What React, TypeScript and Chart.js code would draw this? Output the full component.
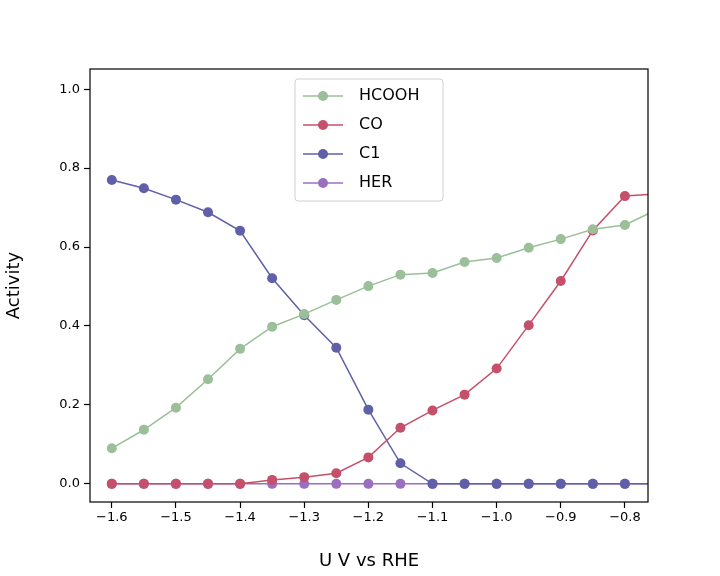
import { useEffect, useRef } from 'react';
import Chart from 'chart.js/auto';

const potentials = [-1.6, -1.55, -1.5, -1.45, -1.4, -1.35, -1.3, -1.25, -1.2, -1.15, -1.1, -1.05, -1.0, -0.95, -0.9, -0.85, -0.8, -0.75];
const hcooh = [0.09, 0.137, 0.193, 0.265, 0.342, 0.398, 0.43, 0.466, 0.501, 0.53, 0.534, 0.562, 0.572, 0.598, 0.62, 0.645, 0.656, 0.695];
const co = [0, 0, 0, 0, 0, 0.01, 0.017, 0.027, 0.067, 0.142, 0.186, 0.226, 0.292, 0.402, 0.514, 0.642, 0.729, 0.735];
const c1 = [0.77, 0.749, 0.72, 0.688, 0.641, 0.521, 0.427, 0.345, 0.188, 0.052, 0, 0, 0, 0, 0, 0, 0, 0];
const her = [0, 0, 0, 0, 0, 0, 0, 0, 0, 0, 0, 0, 0, 0, 0, 0, 0, 0];

const seriesNames = ['HCOOH', 'CO', 'C1', 'HER'];
const seriesColors = ['#9bbf98', '#c4506a', '#6060a8', '#9a6fc0'];
const seriesValues = [hcooh, co, c1, her];

const FONT = 'DejaVu Sans';

const framePlugin = {
  id: 'frame',
  afterDraw(chart: any) {
    const { ctx, chartArea: a } = chart;
    ctx.save();
    ctx.strokeStyle = '#000';
    ctx.lineWidth = 1.2;
    ctx.strokeRect(a.left, a.top, a.right - a.left, a.bottom - a.top);
    // legend box
    const x0 = 295, y0 = 79, w = 148, h = 122;
    ctx.fillStyle = 'rgba(255,255,255,0.8)';
    ctx.strokeStyle = '#d0d0d0';
    ctx.lineWidth = 1;
    ctx.beginPath();
    ctx.roundRect(x0, y0, w, h, 3);
    ctx.fill();
    ctx.stroke();
    ctx.font = `16px ${FONT}`;
    ctx.textBaseline = 'middle';
    seriesNames.forEach((name, i) => {
      const y = 96 + i * 29;
      ctx.strokeStyle = seriesColors[i];
      ctx.lineWidth = 1.5;
      ctx.beginPath();
      ctx.moveTo(303, y);
      ctx.lineTo(343, y);
      ctx.stroke();
      ctx.fillStyle = seriesColors[i];
      ctx.beginPath();
      ctx.arc(323, y, 5, 0, Math.PI * 2);
      ctx.fill();
      ctx.fillStyle = '#000';
      ctx.fillText(name, 359, y);
    });
    ctx.restore();
  },
};

export default function App() {
  const canvasRef = useRef<HTMLCanvasElement>(null);

  useEffect(() => {
    document.body.style.margin = '0';
    if (!canvasRef.current) return;
    const chart = new Chart(canvasRef.current, {
      type: 'line',
      data: {
        datasets: seriesNames.map((name, i) => ({
          label: name,
          data: potentials.map((x, j) => ({ x, y: seriesValues[i][j] })),
          borderColor: seriesColors[i],
          backgroundColor: seriesColors[i],
          borderWidth: 1.5,
          pointRadius: 5,
          pointBorderWidth: 0,
          tension: 0,
        })),
      },
      options: {
        responsive: false,
        animation: false,
        layout: { padding: { top: 69, right: 72, left: 0, bottom: 0 } },
        plugins: { legend: { display: false }, tooltip: { enabled: false } },
        scales: {
          x: {
            type: 'linear',
            min: -1.634,
            max: -0.764,
            afterFit: (s: any) => { s.height = 74; },
            afterBuildTicks: (s: any) => {
              s.ticks = [-1.6, -1.5, -1.4, -1.3, -1.2, -1.1, -1.0, -0.9, -0.8].map(v => ({ value: v }));
            },
            ticks: {
              color: '#000',
              font: { family: FONT, size: 13 },
              padding: 2,
              callback: (v: any) => Number(v).toFixed(1).replace('-', '\u2212'),
            },
            grid: { drawOnChartArea: false, color: '#000', tickLength: 6, tickWidth: 1.2 },
            border: { display: false },
            title: { display: true, text: 'U V vs RHE', color: '#000', font: { family: FONT, size: 18 }, padding: { top: 2 } },
          },
          y: {
            min: -0.046,
            max: 1.051,
            afterFit: (s: any) => { s.width = 90; },
            afterBuildTicks: (s: any) => {
              s.ticks = [0, 0.2, 0.4, 0.6, 0.8, 1.0].map(v => ({ value: v }));
            },
            ticks: {
              color: '#000',
              font: { family: FONT, size: 13 },
              padding: 4,
              callback: (v: any) => Number(v).toFixed(1),
            },
            grid: { drawOnChartArea: false, color: '#000', tickLength: 6, tickWidth: 1.2 },
            border: { display: false },
            title: { display: true, text: 'Activity', color: '#000', font: { family: FONT, size: 18 }, padding: { bottom: 4 } },
          },
        },
      },
      plugins: [framePlugin],
    });
    return () => chart.destroy();
  }, []);

  return <canvas ref={canvasRef} width={720} height={576} style={{ display: 'block' }} />;
}
